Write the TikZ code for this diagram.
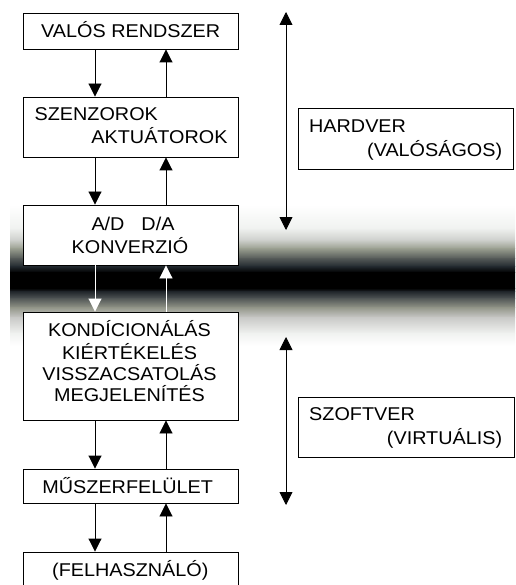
\documentclass[tikz,border=0pt]{standalone}
\usepackage{fontspec}
\setmainfont{Liberation Sans}[FakeStretch=1.07]
\usetikzlibrary{arrows.meta}
\definecolor{g1}{RGB}{240,242,240}
\definecolor{g2}{RGB}{205,207,203}
\definecolor{g3}{RGB}{155,160,145}
\definecolor{g4}{RGB}{85,90,88}
\definecolor{g5}{RGB}{35,42,48}
\definecolor{g6}{RGB}{30,35,40}
\definecolor{g7}{RGB}{80,85,85}
\definecolor{g8}{RGB}{145,148,135}
\definecolor{g9}{RGB}{200,200,198}
\begin{document}
\begin{tikzpicture}[x=1pt,y=-1pt,
  box/.style={draw=black,line width=0.9pt,fill=white,inner sep=0pt,minimum width=215pt},
  lbl/.style={inner sep=0pt,font=\fontsize{18.5}{22}\selectfont},
  arr/.style={line width=0.9pt,-{Triangle[width=13pt,length=13pt]}},
  darr/.style={line width=0.9pt,{Triangle[width=13pt,length=13pt]}-{Triangle[width=13pt,length=13pt]}}]
\useasboundingbox (0,0) rectangle (515,585);
% background band
\foreach \ya/\ca/\yb/\cb in {205/white/228/g1,228/g1/240/g2,240/g2/248/g3,248/g3/258/g4,258/g4/266/g5,266/g5/272/black,272/black/288/black,288/black/291/g6,291/g6/298/g7,298/g7/307/g8,307/g8/317/g9,317/g9/333/g1,333/g1/345/white}
  \shade[top color=\ca,bottom color=\cb] (10,\ya) rectangle (515,\yb+0.6);
% boxes
\node[box,minimum height=36pt] (vr) at (130.5,31) {};
\node[box,minimum height=60pt] (sz) at (130.5,127) {};
\node[box,minimum height=60pt] (ad) at (130.5,235) {};
\node[box,minimum height=108pt] (kd) at (130.5,366) {};
\node[box,minimum height=34pt] (mf) at (130.5,486) {};
\node[box,minimum height=40pt] (fh) at (130.5,572) {};
\node[box,minimum height=61pt] (hw) at (405.5,138.5) {};
\node[box,minimum height=60pt,minimum width=216pt] (sw) at (406,427) {};
% texts
\node[lbl,anchor=base] (t1) at (130.7,37.5) {VALÓS RENDSZER};
\node[lbl,anchor=base west] (t2) at (34.5,120.5) {SZENZOROK};
\node[lbl,anchor=base east] (t3) at (227.7,144) {AKTUÁTOROK};
\node[lbl,anchor=base] (t4) at (133,230) {A/D\hspace{17pt}D/A};
\node[lbl,anchor=base] (t5) at (130,253.3) {KONVERZIÓ};
\node[lbl,anchor=base] (t6) at (129.5,336.7) {KONDÍCIONÁLÁS};
\node[lbl,anchor=base] (t7) at (129.5,359) {KIÉRTÉKELÉS};
\node[lbl,anchor=base] (t8) at (129.5,380.3) {VISSZACSATOLÁS};
\node[lbl,anchor=base] (t9) at (129.5,401.7) {MEGJELENÍTÉS};
\node[lbl,anchor=base] (t10) at (127.7,493.3) {MŰSZERFELÜLET};
\node[lbl,anchor=base] (t11) at (130.3,576.5) {(FELHASZNÁLÓ)};
\node[lbl,anchor=base west] (t12) at (309,132.3) {HARDVER};
\node[lbl,anchor=base east] (t13) at (502.3,156.7) {(VALÓSÁGOS)};
\node[lbl,anchor=base west] (t14) at (309,420) {SZOFTVER};
\node[lbl,anchor=base east] (t15) at (502.3,444) {(VIRTUÁLIS)};
% connector columns
\coordinate (dl) at (95,0);
\coordinate (ul) at (166,0);
\draw[arr] (dl |- vr.south) -- (dl |- sz.north);
\draw[arr] (ul |- sz.north) -- (ul |- vr.south);
\draw[arr] (dl |- sz.south) -- (dl |- ad.north);
\draw[arr] (ul |- ad.north) -- (ul |- sz.south);
\draw[arr,white] (dl |- ad.south) -- (dl |- kd.north);
\draw[arr,white] (ul |- kd.north) -- (ul |- ad.south);
\draw[arr] (dl |- kd.south) -- (dl |- mf.north);
\draw[arr] (ul |- mf.north) -- (ul |- kd.south);
\draw[arr] (dl |- mf.south) -- (dl |- fh.north);
\draw[arr] (ul |- fh.north) -- (ul |- mf.south);
% side arrows
\coordinate (ht) at (286,12);
\coordinate (hb) at (286,230);
\coordinate (st) at (286,337);
\coordinate (sb) at (286,505);
\draw[darr] (ht) -- (hb);
\draw[darr] (st) -- (sb);
\end{tikzpicture}
\end{document}
